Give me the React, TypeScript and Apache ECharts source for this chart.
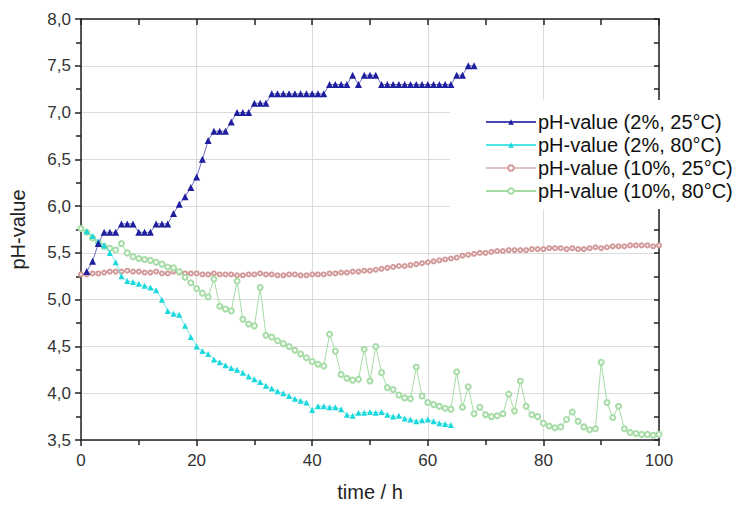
import React, { useEffect, useRef } from "react";
import * as echarts from "echarts";

// pH-value (2%, 25°C), hourly from t = 1 h
const blueStart = 1;
const blueValues = [
  5.30, 5.41, 5.60, 5.72, 5.72, 5.72, 5.81, 5.81, 5.81, 5.72,
  5.72, 5.72, 5.81, 5.81, 5.81, 5.92, 6.02, 6.10, 6.20, 6.31,
  6.50, 6.70, 6.80, 6.80, 6.80, 6.90, 7.00, 7.00, 7.00, 7.10,
  7.10, 7.10, 7.20, 7.20, 7.20, 7.20, 7.20, 7.20, 7.20, 7.20,
  7.20, 7.20, 7.30, 7.30, 7.30, 7.30, 7.40, 7.30, 7.40, 7.40,
  7.40, 7.30, 7.30, 7.30, 7.30, 7.30, 7.30, 7.30, 7.30, 7.30,
  7.30, 7.30, 7.30, 7.30, 7.40, 7.40, 7.50, 7.50,
];

// pH-value (2%, 80°C), hourly from t = 1 h
const cyanStart = 1;
const cyanValues = [
  5.73, 5.68, 5.62, 5.58, 5.50, 5.40, 5.25, 5.20, 5.19, 5.17,
  5.15, 5.13, 5.10, 5.00, 4.88, 4.85, 4.84, 4.72, 4.60, 4.50,
  4.45, 4.42, 4.36, 4.33, 4.30, 4.27, 4.25, 4.22, 4.18, 4.15,
  4.12, 4.08, 4.05, 4.02, 4.00, 3.97, 3.94, 3.92, 3.90, 3.82,
  3.86, 3.86, 3.85, 3.85, 3.83, 3.77, 3.76, 3.79, 3.79, 3.80,
  3.79, 3.80, 3.77, 3.75, 3.76, 3.73, 3.72, 3.70, 3.71, 3.72,
  3.70, 3.68, 3.67, 3.66,
];

// pH-value (10%, 25°C), hourly from t = 0 h
const pinkStart = 0;
const pinkValues = [
  5.27, 5.27, 5.28, 5.28, 5.29, 5.30, 5.30, 5.30, 5.31, 5.30,
  5.30, 5.29, 5.29, 5.30, 5.28, 5.28, 5.30, 5.29, 5.28, 5.28,
  5.28, 5.27, 5.27, 5.28, 5.27, 5.27, 5.27, 5.26, 5.26, 5.27,
  5.27, 5.28, 5.27, 5.27, 5.26, 5.26, 5.27, 5.27, 5.26, 5.26,
  5.27, 5.27, 5.27, 5.28, 5.28, 5.29, 5.29, 5.30, 5.30, 5.31,
  5.31, 5.32, 5.33, 5.34, 5.35, 5.36, 5.36, 5.37, 5.38, 5.39,
  5.40, 5.41, 5.42, 5.43, 5.44, 5.45, 5.47, 5.48, 5.49, 5.50,
  5.50, 5.51, 5.52, 5.52, 5.53, 5.53, 5.53, 5.53, 5.54, 5.54,
  5.54, 5.55, 5.55, 5.55, 5.54, 5.55, 5.54, 5.54, 5.55, 5.56,
  5.55, 5.56, 5.57, 5.57, 5.57, 5.58, 5.58, 5.58, 5.58, 5.57,
  5.58,
];

// pH-value (10%, 80°C), hourly from t = 0 h
const greenStart = 0;
const greenValues = [
  5.76, 5.72, 5.66, 5.61, 5.57, 5.55, 5.53, 5.60, 5.50, 5.46,
  5.44, 5.43, 5.42, 5.40, 5.38, 5.35, 5.34, 5.30, 5.24, 5.18,
  5.12, 5.07, 5.03, 5.22, 4.93, 4.90, 4.88, 5.20, 4.79, 4.74,
  4.72, 5.13, 4.62, 4.60, 4.56, 4.53, 4.50, 4.46, 4.42, 4.38,
  4.34, 4.31, 4.29, 4.63, 4.45, 4.20, 4.16, 4.14, 4.15, 4.47,
  4.13, 4.50, 4.22, 4.06, 4.04, 3.98, 3.95, 3.94, 4.28, 3.97,
  3.90, 3.88, 3.86, 3.84, 3.83, 4.23, 3.85, 4.07, 3.78, 3.85,
  3.77, 3.75, 3.76, 3.78, 3.99, 3.81, 4.13, 3.86, 3.77, 3.75,
  3.68, 3.65, 3.63, 3.64, 3.72, 3.80, 3.70, 3.64, 3.61, 3.62,
  4.33, 3.90, 3.74, 3.86, 3.62, 3.58, 3.57, 3.56, 3.56, 3.55,
  3.56,
];

const seriesNames = [
  "pH-value (2%, 25°C)",
  "pH-value (2%, 80°C)",
  "pH-value (10%, 25°C)",
  "pH-value (10%, 80°C)",
];

const xTicks = [0, 20, 40, 60, 80, 100];
const yTicks = [3.5, 4.0, 4.5, 5.0, 5.5, 6.0, 6.5, 7.0, 7.5, 8.0];

const toPairs = (start: number, vals: number[]) => vals.map((v, i) => [start + i, v]);

const FONT = "'Liberation Sans', Arial, Helvetica, sans-serif";

export default function App() {
  const ref = useRef<HTMLDivElement>(null);
  useEffect(() => {
    if (!ref.current) return;
    const chart = echarts.init(ref.current, undefined, { renderer: "svg" });
    const axisColor = "#222";
    const gridColor = "#dcdcdc";
    chart.setOption({
      animation: false,
      backgroundColor: "#fff",
      textStyle: { fontFamily: FONT },
      grid: { left: 80, right: 91, top: 19, bottom: 66, containLabel: false },
      legend: {
        orient: "vertical",
        left: 450,
        top: 100,
        padding: [12, 10, 8, 35],
        backgroundColor: "#fff",
        itemWidth: 50,
        itemHeight: 7,
        itemGap: 3,
        textStyle: { fontSize: 20, color: "#111", fontFamily: FONT, padding: [0, 0, 0, -3] },
        data: seriesNames,
      },
      xAxis: [
        {
          type: "value",
          min: xTicks[0],
          max: xTicks[xTicks.length - 1],
          interval: 20,
          position: "bottom",
          name: "time / h",
          nameLocation: "middle",
          nameGap: 42,
          nameTextStyle: { fontSize: 20, color: "#222", fontFamily: FONT },
          axisLine: { show: true, onZero: false, lineStyle: { color: axisColor, width: 1.5 } },
          axisTick: { show: true, inside: false, length: 6, lineStyle: { color: axisColor, width: 1.5 } },
          minorTick: { show: true, splitNumber: 2, length: 5, lineStyle: { color: axisColor, width: 1.5 } },
          axisLabel: { fontSize: 17, color: "#333", margin: 12, fontFamily: FONT },
          splitLine: { show: true, lineStyle: { color: gridColor, width: 1 } },
        },
        {
          type: "value",
          min: 0,
          max: 100,
          interval: 10,
          position: "top",
          axisLine: { show: true, onZero: false, lineStyle: { color: axisColor, width: 1.5 } },
          axisTick: { show: true, inside: true, length: 6, lineStyle: { color: axisColor, width: 1.5 } },
          axisLabel: { show: false },
          splitLine: { show: false },
        },
      ],
      yAxis: [
        {
          type: "value",
          min: yTicks[0],
          max: yTicks[yTicks.length - 1],
          interval: 0.5,
          position: "left",
          name: "pH-value",
          nameLocation: "middle",
          nameGap: 53,
          nameTextStyle: { fontSize: 20, color: "#222", fontFamily: FONT },
          axisLine: { show: true, onZero: false, lineStyle: { color: axisColor, width: 1.5 } },
          axisTick: { show: true, inside: false, length: 6, lineStyle: { color: axisColor, width: 1.5 } },
          minorTick: { show: true, splitNumber: 2, length: 5, lineStyle: { color: axisColor, width: 1.5 } },
          axisLabel: {
            fontSize: 17,
            color: "#333",
            margin: 10,
            fontFamily: FONT,
            formatter: (v: number) => v.toFixed(1).replace(".", ","),
          },
          splitLine: { show: true, lineStyle: { color: gridColor, width: 1 } },
        },
        {
          type: "value",
          min: 3.5,
          max: 8,
          interval: 0.25,
          position: "right",
          axisLine: { show: true, onZero: false, lineStyle: { color: axisColor, width: 1.5 } },
          axisTick: { show: true, inside: true, length: 5, lineStyle: { color: axisColor, width: 1.5 } },
          axisLabel: { show: false },
          splitLine: { show: false },
        },
      ],
      series: [
        {
          name: seriesNames[2],
          type: "line",
          data: toPairs(pinkStart, pinkValues),
          symbol: "emptyCircle",
          symbolSize: 4,
          showAllSymbol: true,
          lineStyle: { color: "#e6c0c0", width: 0.8 },
          itemStyle: { color: "#d39a9a", borderColor: "#d39a9a", borderWidth: 1 },
          z: 2,
        },
        {
          name: seriesNames[3],
          type: "line",
          data: toPairs(greenStart, greenValues),
          symbol: "emptyCircle",
          symbolSize: 5,
          showAllSymbol: true,
          lineStyle: { color: "#a4dca4", width: 1 },
          itemStyle: { color: "#a6dca6", borderColor: "#a6dca6", borderWidth: 1 },
          z: 3,
        },
        {
          name: seriesNames[1],
          type: "line",
          data: toPairs(cyanStart, cyanValues),
          symbol: "triangle",
          symbolSize: 6,
          showAllSymbol: true,
          lineStyle: { color: "#50e4e4", width: 0.8 },
          itemStyle: { color: "#1ad8dc" },
          z: 4,
        },
        {
          name: seriesNames[0],
          type: "line",
          data: toPairs(blueStart, blueValues),
          symbol: "triangle",
          symbolSize: 7,
          showAllSymbol: true,
          lineStyle: { color: "#4a4ab0", width: 0.8 },
          itemStyle: { color: "#1e1e9e" },
          z: 5,
        },
      ],
    });
    return () => chart.dispose();
  }, []);
  return (
    <div
      ref={ref}
      style={{ position: "fixed", left: 0, top: 0, width: 750, height: 507, background: "#fff" }}
    />
  );
}
